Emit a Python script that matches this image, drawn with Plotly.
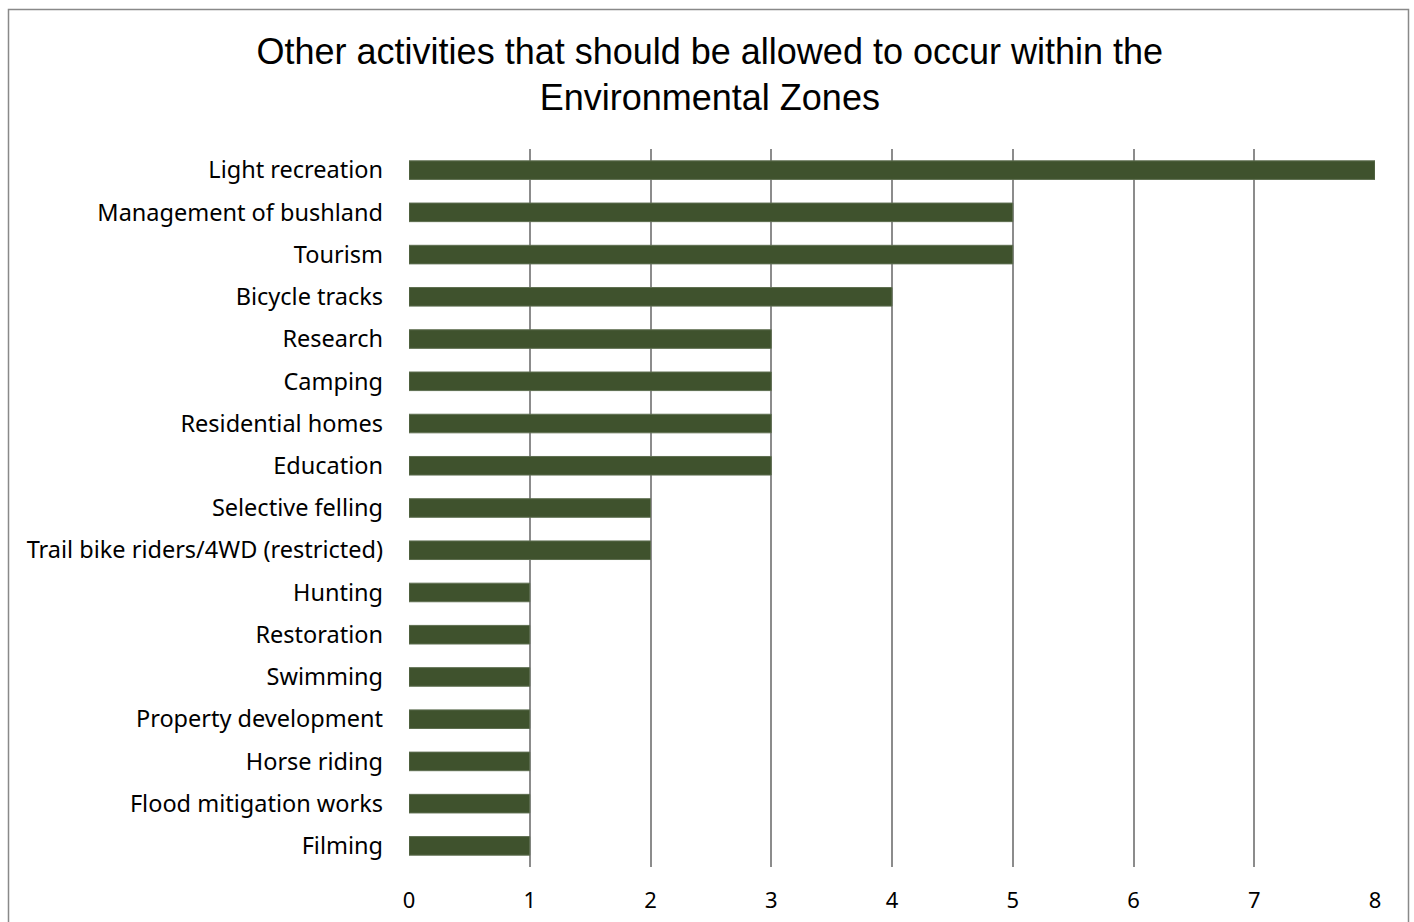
import plotly.graph_objects as go

# Activities, top to bottom as listed in the survey summary
activities = [
    "Light recreation",
    "Management of bushland",
    "Tourism",
    "Bicycle tracks",
    "Research",
    "Camping",
    "Residential homes",
    "Education",
    "Selective felling",
    "Trail bike riders/4WD (restricted)",
    "Hunting",
    "Restoration",
    "Swimming",
    "Property development",
    "Horse riding",
    "Flood mitigation works",
    "Filming",
]
responses = [8, 5, 5, 4, 3, 3, 3, 3, 2, 2, 1, 1, 1, 1, 1, 1, 1]
x_ticks = [0, 1, 2, 3, 4, 5, 6, 7, 8]

W, H = 1414, 922
L, R, T, B = 409, 39, 149, 55
pw, ph = W - L - R, H - T - B

fig = go.Figure(
    go.Bar(
        x=responses,
        y=activities,
        orientation="h",
        marker=dict(color="#3F522D", line=dict(width=1, color="#5E6E50")),
    )
)

# outer chart frame, expressed in paper units of the plot area
def px_to_paper_x(px):
    return (px - L) / pw

def px_to_paper_y(py):
    return (H - B - py) / ph

fig.add_shape(
    type="rect",
    xref="paper", yref="paper",
    x0=px_to_paper_x(8.5), x1=px_to_paper_x(1408.5),
    y0=px_to_paper_y(930), y1=px_to_paper_y(9.5),
    line=dict(color="#898989", width=1.5),
    fillcolor="rgba(0,0,0,0)",
    layer="below",
)

fig.update_layout(
    width=W, height=H,
    margin=dict(l=L, r=R, t=T, b=B, autoexpand=False),
    paper_bgcolor="white",
    plot_bgcolor="white",
    showlegend=False,
    bargap=0.56,
    title=dict(
        text="Other activities that should be allowed to occur within the<br>Environmental Zones",
        font=dict(family="Liberation Sans, Arial", size=36, color="#000000"),
        x=0.502, xanchor="center", xref="container",
        y=0.931, yanchor="top", yref="container",
    ),
    xaxis=dict(
        range=[0, 8],
        tickvals=x_ticks,
        showgrid=True,
        gridcolor="#8C8C8C",
        gridwidth=2,
        zeroline=False,
        showline=False,
        ticks="",
        layer="below traces",
        automargin=False,
        tickfont=dict(family="Noto Sans", size=22, color="#000000"),
        ticklabelstandoff=18,
        fixedrange=True,
    ),
    yaxis=dict(
        categoryorder="array",
        categoryarray=activities[::-1],
        showgrid=False,
        zeroline=False,
        showline=False,
        ticks="",
        automargin=False,
        tickfont=dict(family="Noto Sans", size=23.5, color="#000000"),
        ticklabelstandoff=25,
        fixedrange=True,
    ),
)

fig.write_html("out.html")
